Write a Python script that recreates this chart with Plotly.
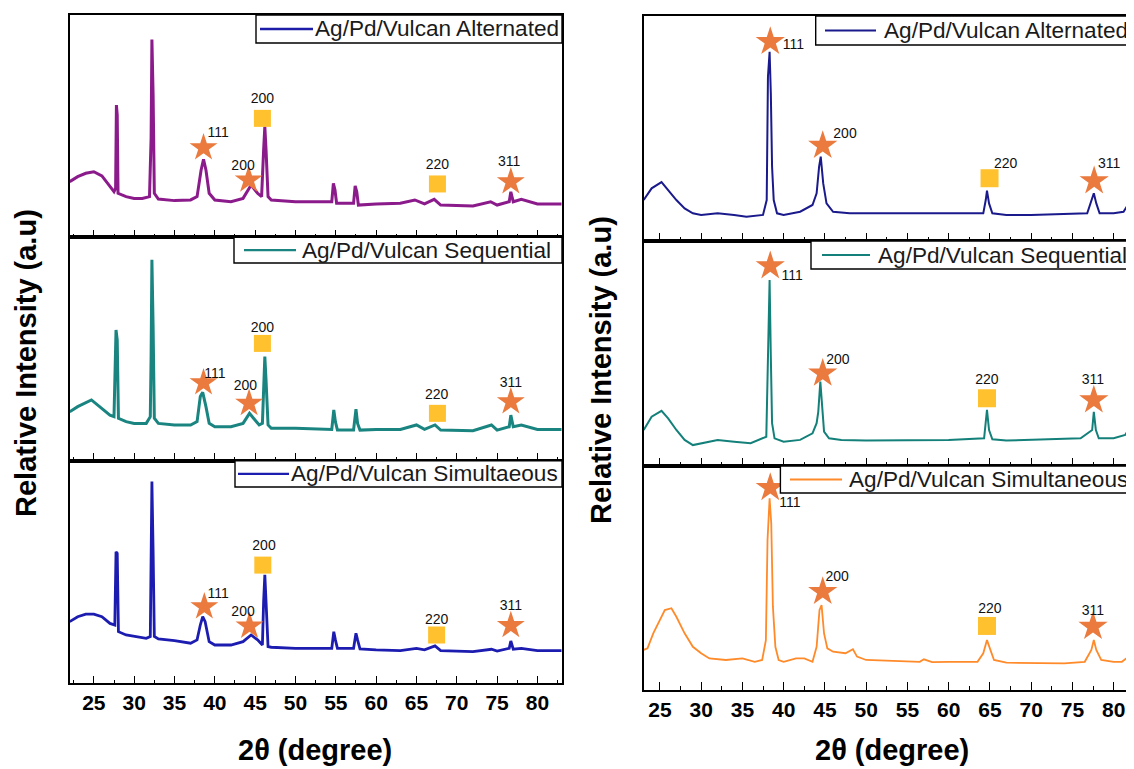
import plotly.graph_objects as go

OFF = 8                      # page body margin of the html page
W, H = 1134 - OFF, 769 - OFF  # figure size so that it ends at the window edge

# ---------------- data ----------------
series_names = ["Ag/Pd/Vulcan Alternated", "Ag/Pd/Vulcan Sequential", "Ag/Pd/Vulcan Simultaeous",
                "Ag/Pd/Vulcan Alternated", "Ag/Pd/Vulcan Sequential", "Ag/Pd/Vulcan Simultaneous"]

lt_x = [22.0, 23, 24, 25, 26, 27, 27.5, 27.7, 27.8, 27.9, 28.0, 29, 30, 31, 31.9, 32.1, 32.2, 32.35, 32.5, 33,
        35, 37, 37.8, 38.3, 38.6, 38.9, 39.3, 40, 42, 43.5, 44.5, 45.3, 45.8, 46.05, 46.2, 46.35, 46.6, 47, 50,
        54.5, 54.7, 54.9, 55.1, 57.2, 57.4, 57.6, 57.8, 60, 63, 64.8, 66, 67.2, 68, 72, 74.2, 75, 76.5, 76.7, 77,
        78, 80, 83]
lt_y = [250, 273, 288, 295, 276, 228, 205, 220, 595, 550, 198, 183, 175, 175, 183, 445, 890, 640, 198, 172,
        165, 168, 183, 303, 351, 303, 198, 168, 160, 175, 235, 198, 183, 393, 498, 393, 183, 168, 160,
        160, 243, 213, 153, 153, 231, 205, 145, 150, 153, 168, 150, 171, 145, 141, 160, 145, 160, 205, 160,
        171, 150, 150]

lm_x = [22.0, 23, 24.7, 26, 27, 27.5, 27.75, 27.9, 28.05, 29, 30, 31.5, 32.0, 32.1, 32.2, 32.35, 32.5, 33, 35, 37,
        37.8, 38.2, 38.5, 38.9, 39.3, 40, 42, 43.5, 44.3, 44.8, 45.5, 45.9, 46.05, 46.2, 46.35, 46.6, 47, 50, 54.5,
        54.75, 54.95, 55.2, 57.2, 57.5, 57.7, 58, 60, 63, 65, 66, 67.3, 68, 72, 74.3, 75, 76.5, 76.7, 77, 78, 80, 83]
lm_y = [219, 242, 272, 234, 204, 197, 585, 540, 190, 175, 167, 167, 197, 466, 899, 600, 190, 167, 160, 160,
        175, 287, 306, 242, 167, 152, 152, 167, 212, 190, 160, 167, 361, 466, 361, 160, 145, 145, 140,
        227, 175, 137, 137, 231, 167, 137, 140, 140, 160, 140, 160, 137, 134, 160, 137, 152, 204, 152, 160, 140, 140]

lb_x = [22.0, 23, 24, 25, 26, 27, 27.6, 27.75, 27.9, 28.05, 29, 30, 31.5, 32.0, 32.1, 32.2, 32.35, 32.5, 33, 35,
        37, 37.8, 38.2, 38.5, 38.8, 39.3, 40, 42, 43.5, 44.5, 45.3, 45.9, 46.05, 46.2, 46.35, 46.6, 47, 50, 54.5,
        54.75, 54.95, 55.2, 57.2, 57.5, 57.7, 58, 60, 63, 65, 66, 67.3, 68, 72, 74.3, 75, 76.5, 76.7, 77, 78, 80, 83]
lb_y = [277, 299, 311, 311, 299, 269, 262, 591, 584, 232, 217, 210, 202, 210, 546, 906, 591, 210, 199, 192,
        180, 195, 262, 299, 277, 187, 172, 172, 187, 217, 195, 172, 367, 487, 367, 165, 162, 157, 157,
        232, 195, 157, 157, 225, 195, 154, 150, 147, 157, 150, 168, 147, 142, 153, 145, 157, 190, 153, 157, 147, 147]

rt_x = [23.04, 24, 25.2, 26, 27, 28, 29, 30, 32, 34, 35.5, 37.5, 37.95, 38.1, 38.3, 38.45, 38.6, 38.8, 39.2, 40,
        42, 43.5, 44.0, 44.3, 44.5, 44.8, 45.2, 46, 48, 50, 55, 60, 64.2, 64.5, 64.65, 64.9, 65.3, 67, 70, 76.8,
        77.35, 77.6, 77.9, 78.3, 80, 81.2, 81.6, 81.9, 82.47]
rt_y = [182, 234, 262, 227, 182, 145, 123, 116, 123, 116, 108, 116, 182, 730, 841, 656, 330, 182, 123, 116,
        130, 160, 212, 330, 375, 256, 167, 130, 123, 123, 123, 120, 123, 182, 224, 167, 123, 116, 116, 123,
        182, 212, 167, 123, 123, 130, 153, 138, 116]

rm_x = [23.04, 24, 25.2, 26, 27, 28, 29, 30, 32, 34, 36, 37.9, 38.1, 38.3, 38.45, 38.6, 38.9, 40, 42, 43.5,
        44.0, 44.2, 44.45, 44.7, 44.9, 45.5, 47, 50, 55, 60, 64.3, 64.65, 64.9, 65.3, 67, 70, 76, 77.4, 77.6, 77.85,
        78.2, 80, 81.4, 81.65, 81.95, 82.47]
rm_y = [160, 219, 245, 212, 160, 116, 93, 101, 116, 108, 101, 130, 486, 827, 486, 190, 123, 108, 116, 145,
        190, 241, 375, 241, 153, 123, 116, 113, 116, 116, 123, 249, 160, 119, 113, 116, 123, 160, 241, 160,
        123, 123, 138, 153, 123, 119]

rb_x = [23.04, 23.5, 24.2, 25, 25.6, 26.4, 27, 28, 29, 30, 31, 33, 35, 36.5, 37.4, 37.85, 38.05, 38.3, 38.5, 38.7,
        39.0, 39.4, 40, 41.5, 42.5, 43.5, 44.0, 44.35, 44.6, 44.9, 45.3, 46, 47.5, 48.4, 48.9, 50, 53, 56.5, 57, 58,
        60, 63.5, 64.2, 64.65, 65.0, 65.5, 67, 70, 74, 76.5, 77.3, 77.6, 77.9, 78.5, 80, 81, 81.8, 82.47]
rb_y = [179, 186, 253, 313, 357, 365, 327, 253, 193, 164, 141, 134, 141, 126, 134, 223, 670, 856, 744, 372,
        193, 134, 126, 141, 141, 126, 193, 357, 379, 253, 186, 171, 164, 182, 149, 134, 131, 126, 137, 124,
        126, 126, 164, 223, 186, 134, 122, 122, 119, 126, 179, 223, 179, 134, 126, 126, 149, 141]

# phase markers: stars (Ag fcc), squares (Pd)
lt_star_x, lt_star_y = [38.6, 44.2, 76.7], [403, 258, 250]
lt_sq_x, lt_sq_y = [45.9, 67.6], [535, 240]
lt_lab = ["111", "200", "200", "220", "311"]
lt_lab_x, lt_lab_y = [40.4, 43.5, 45.9, 67.6, 76.5], [468, 318, 621, 322, 336]

lm_star_x, lm_star_y = [38.6, 44.25, 76.7], [349, 257, 264]
lm_sq_x, lm_sq_y = [45.9, 67.6], [525, 212]
lm_lab = ["111", "200", "200", "220", "311"]
lm_lab_x, lm_lab_y = [40.0, 43.8, 45.9, 67.5, 76.7], [384, 331, 593, 294, 346]

lb_star_x, lb_star_y = [38.7, 44.3, 76.7], [344, 257, 260]
lb_sq_x, lb_sq_y = [45.95, 67.5], [531, 217]
lb_lab = ["111", "200", "200", "220", "311"]
lb_lab_x, lb_lab_y = [40.4, 43.5, 46.1, 67.5, 76.7], [397, 319, 614, 281, 344]

rt_star_x, rt_star_y = [38.38, 44.74, 77.64], [886, 424, 267]
rt_sq_x, rt_sq_y = [64.96], [279]
rt_lab = ["111", "200", "311", "220"]
rt_lab_x, rt_lab_y = [41.2, 47.44, 79.47, 66.92], [871, 474, 341, 342]

rm_star_x, rm_star_y = [38.38, 44.74, 77.6], [889, 412, 293]
rm_sq_x, rm_sq_y = [64.65], [301]
rm_lab = ["111", "200", "311", "220"]
rm_lab_x, rm_lab_y = [41.03, 46.57, 77.5, 64.65], [841, 471, 378, 382]

rb_star_x, rb_star_y = [38.38, 44.74, 77.5], [903, 439, 283]
rb_sq_x, rb_sq_y = [64.65], [286]
rb_lab = ["111", "200", "311", "220"]
rb_lab_x, rb_lab_y = [40.77, 46.48, 77.5, 65.0], [833, 503, 350, 360]

x_ticks = [25, 30, 35, 40, 45, 50, 55, 60, 65, 70, 75, 80]

# ---------------- styling ----------------
FONT = "Liberation Sans, Arial, sans-serif"
line_colors = ["#8B1A8B", "#1A8580", "#1C1CB0", "#1A1A8C", "#14807A", "#FF8A2A"]
legend_line_colors = ["#1C1CA8", "#1A8580", "#1C1CB0", "#1A1A8C", "#14807A", "#FF8A2A"]
line_widths = [3.0, 3.0, 2.8, 2.0, 2.0, 1.8]
STAR_C, SQ_C = "#EA7A3E", "#FFC12E"

panels = [
    (lt_x, lt_y, lt_star_x, lt_star_y, lt_sq_x, lt_sq_y, lt_lab, lt_lab_x, lt_lab_y),
    (lm_x, lm_y, lm_star_x, lm_star_y, lm_sq_x, lm_sq_y, lm_lab, lm_lab_x, lm_lab_y),
    (lb_x, lb_y, lb_star_x, lb_star_y, lb_sq_x, lb_sq_y, lb_lab, lb_lab_x, lb_lab_y),
    (rt_x, rt_y, rt_star_x, rt_star_y, rt_sq_x, rt_sq_y, rt_lab, rt_lab_x, rt_lab_y),
    (rm_x, rm_y, rm_star_x, rm_star_y, rm_sq_x, rm_sq_y, rm_lab, rm_lab_x, rm_lab_y),
    (rb_x, rb_y, rb_star_x, rb_star_y, rb_sq_x, rb_sq_y, rb_lab, rb_lab_x, rb_lab_y),
]

# window-pixel boxes (left, right, top, bottom)
px_boxes = [
    (69.8, 561.8, 15.0, 237.3), (69.8, 561.8, 237.3, 460.7), (69.8, 561.8, 460.7, 683.3),
    (643.7, 1134.0, 16.0, 241.0), (643.7, 1134.0, 241.0, 466.0), (643.7, 1134.0, 466.0, 690.0),
]
x_ranges = [[22.02, 83.02]] * 3 + [[23.04, 82.47]] * 3
star_sizes = [21, 21, 21, 22, 22, 22]
sq_sizes = [17, 17, 17, 18, 18, 18]


def px(x):
    return (x - OFF) / W


def py(y):
    return 1 - (y - OFF) / H


fig = go.Figure()
layout = dict(width=W, height=H, margin=dict(l=0, r=0, t=0, b=0),
              paper_bgcolor="white", plot_bgcolor="white", showlegend=False,
              font=dict(family=FONT, color="black"))

for i, (xs, ys, sx, sy, qx, qy, lab, lx, ly) in enumerate(panels):
    n = i + 1
    xa = "x" if n == 1 else f"x{n}"
    ya = "y" if n == 1 else f"y{n}"
    fig.add_trace(go.Scatter(x=xs, y=ys, mode="lines", name=series_names[i],
                             line=dict(color=line_colors[i], width=line_widths[i]),
                             xaxis=xa, yaxis=ya))
    fig.add_trace(go.Scatter(x=sx, y=sy, mode="markers", xaxis=xa, yaxis=ya, cliponaxis=False,
                             marker=dict(symbol="star", size=star_sizes[i], color=STAR_C, line=dict(width=0))))
    fig.add_trace(go.Scatter(x=qx, y=qy, mode="markers", xaxis=xa, yaxis=ya, cliponaxis=False,
                             marker=dict(symbol="square", size=sq_sizes[i], color=SQ_C, line=dict(width=0))))
    fig.add_trace(go.Scatter(x=lx, y=ly, mode="text", text=lab, xaxis=xa, yaxis=ya, cliponaxis=False,
                             textfont=dict(size=14, color="#111111", family=FONT)))

    l, r, t, b = px_boxes[i]
    bottom = i in (2, 5)
    right_panel = i >= 3
    xkey = "xaxis" if n == 1 else f"xaxis{n}"
    ykey = "yaxis" if n == 1 else f"yaxis{n}"
    layout[xkey] = dict(
        domain=[max(0, px(l)), min(1, px(r))], anchor=ya, range=x_ranges[i],
        showline=True, linecolor="black", linewidth=1.6, mirror=True,
        ticks="inside", ticklen=8, tickwidth=1.3, tickcolor="black",
        tickvals=x_ticks, showticklabels=bottom,
        tickfont=dict(size=21, family=FONT, color="black", weight="bold"),
        minor=dict(ticks="inside", ticklen=4, tickwidth=1.3, tickcolor="black", dtick=2.5, tick0=0),
        showgrid=False, zeroline=False, fixedrange=True,
    )
    layout[ykey] = dict(
        domain=[py(b), py(t)], anchor=xa, range=[0, 1000],
        showline=True, linecolor="black", linewidth=1.6, mirror=not right_panel,
        ticks="", showticklabels=False, showgrid=False, zeroline=False, fixedrange=True,
    )

fig.update_layout(**layout)

# legends drawn as boxed keys
leg_boxes = [  # box l, box r, box t, box b, line x0, line x1, text x
    (256, 562, 15, 43, 260, 313, 313),
    (234, 562, 237.3, 263, 244, 296, 300),
    (235, 562, 460.7, 487, 238, 289, 289),
    (815.7, 1180, 16, 45, 825, 876, 882),
    (811, 1180, 241, 269, 822, 870, 876),
    (780.4, 1180, 466, 493, 790, 842, 847),
]
for i, (bl, br, bt, bb, l0, l1, tx) in enumerate(leg_boxes):
    fig.add_shape(type="rect", xref="paper", yref="paper", x0=px(bl), x1=px(br), y0=py(bb), y1=py(bt),
                  line=dict(color="black", width=1.4), fillcolor="white", layer="above")
    ym = (bt + bb) / 2
    fig.add_shape(type="line", xref="paper", yref="paper", x0=px(l0), x1=px(l1), y0=py(ym), y1=py(ym),
                  line=dict(color=legend_line_colors[i], width=2.4 if i < 3 else 1.8), layer="above")
    fig.add_annotation(xref="paper", yref="paper", x=px(tx), y=py(ym), xanchor="left", yanchor="middle",
                       text=series_names[i], showarrow=False,
                       font=dict(size=22.6, family=FONT, color="#1a1a1a"))

# axis titles
for cx, cy in [(315, 750), (892, 750)]:
    fig.add_annotation(xref="paper", yref="paper", x=px(cx), y=py(cy), xanchor="center", yanchor="middle",
                       text="<b>2θ (degree)</b>", showarrow=False,
                       font=dict(size=29, family=FONT, color="black"))
for cx, cy in [(26, 363), (601, 370)]:
    fig.add_annotation(xref="paper", yref="paper", x=px(cx), y=py(cy), xanchor="center", yanchor="middle",
                       text="<b>Relative Intensity (a.u)</b>", showarrow=False, textangle=-90,
                       font=dict(size=29, family=FONT, color="black"))

fig.write_html("out.html")
